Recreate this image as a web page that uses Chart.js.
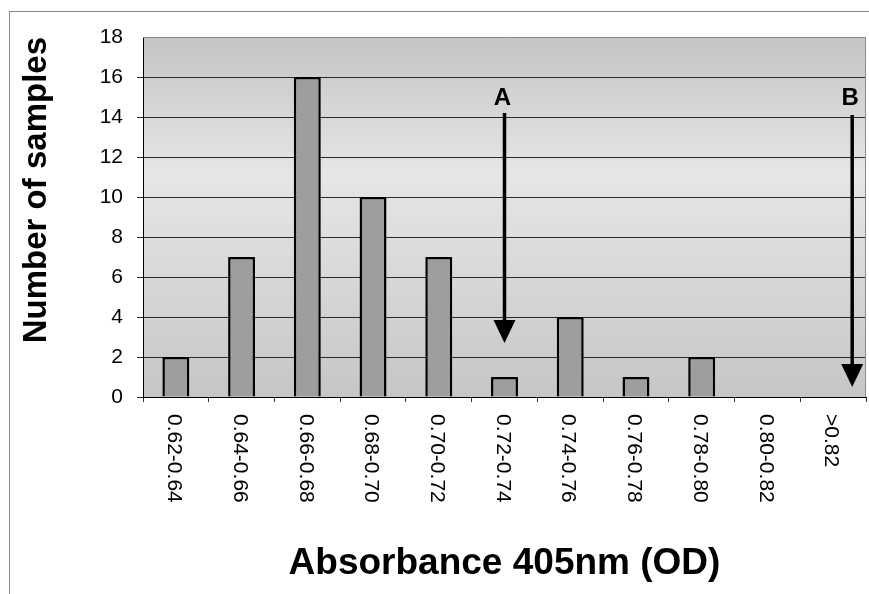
<!DOCTYPE html>
<html>
<head>
<meta charset="utf-8">
<script src="https://cdn.jsdelivr.net/npm/chart.js@4"></script>
<style>
  body { margin: 0; background: #fff; }
  #wrap { position: relative; width: 869px; height: 594px; }
  #frame { position: absolute; left: 9px; top: 11px; right: 0; bottom: 0;
           border-top: 1px solid #8a8a8a; border-left: 1px solid #8a8a8a; pointer-events: none; }
</style>
</head>
<body>
<div id="wrap">
  <canvas id="histChart" width="869" height="594"></canvas>
  <div id="frame"></div>
</div>
<script>
// absorbance bins and sample counts
const bins = ['0.62-0.64', '0.64-0.66', '0.66-0.68', '0.68-0.70', '0.70-0.72', '0.72-0.74',
              '0.74-0.76', '0.76-0.78', '0.78-0.80', '0.80-0.82', '>0.82'];
const counts = [2, 7, 16, 10, 7, 1, 4, 1, 2, 0, 0];

// arrows A and B (x in category index units, y in sample counts)
const arrowNames = ['A', 'B'];
const arrowX = [5, 10.29];
const arrowTop = [14.2, 14.1];
const arrowTip = [2.7, 0.5];
const arrowLabelY = [14.95, 14.95];

const FONT = '"Liberation Sans", Arial, sans-serif';

const plotBackground = {
    id: 'plotBackground',
    beforeDraw(chart) {
        const {ctx, chartArea: a} = chart;
        let g = ctx.createLinearGradient(0, a.top, 0, a.bottom);
        g.addColorStop(0, '#c4c4c4');
        g.addColorStop(0.38, '#e6e6e6');
        g.addColorStop(0.55, '#dedede');
        g.addColorStop(1, '#c6c6c6');
        ctx.save();
        ctx.fillStyle = g;
        ctx.fillRect(a.left, a.top, a.right - a.left, a.bottom - a.top);
        ctx.restore();
    },
    afterDraw(chart) {
        const {ctx, chartArea: a} = chart;
        ctx.save();
        ctx.strokeStyle = '#8a8a8a';
        ctx.lineWidth = 1;
        ctx.beginPath();
        ctx.moveTo(a.left, a.top + 0.5);
        ctx.lineTo(a.right - 0.5, a.top + 0.5);
        ctx.lineTo(a.right - 0.5, a.bottom);
        ctx.stroke();
        ctx.restore();
    }
};

// x labels read top to bottom, so they are drawn here
const xLabels = {
    id: 'xLabels',
    afterDraw(chart) {
        const {ctx, scales: {x}} = chart;
        ctx.save();
        ctx.fillStyle = '#000';
        ctx.font = '21px ' + FONT;
        ctx.textAlign = 'left';
        ctx.textBaseline = 'middle';
        bins.forEach((b, i) => {
            ctx.save();
            ctx.translate(x.getPixelForValue(i) - 2, x.top + 17);
            ctx.rotate(Math.PI / 2);
            ctx.fillText(b, 0, 0);
            ctx.restore();
        });
        ctx.restore();
    }
};

const arrows = {
    id: 'arrows',
    afterDatasetsDraw(chart) {
        const {ctx, scales: {x, y}} = chart;
        const step = x.getPixelForValue(1) - x.getPixelForValue(0);
        ctx.save();
        ctx.fillStyle = '#000';
        ctx.strokeStyle = '#000';
        arrowNames.forEach((name, i) => {
            const px = x.getPixelForValue(0) + arrowX[i] * step;
            const top = y.getPixelForValue(arrowTop[i]);
            const tip = y.getPixelForValue(arrowTip[i]);
            ctx.lineWidth = 3.5;
            ctx.beginPath();
            ctx.moveTo(px, top);
            ctx.lineTo(px, tip - 20);
            ctx.stroke();
            ctx.beginPath();
            ctx.moveTo(px - 11, tip - 23);
            ctx.lineTo(px + 11, tip - 23);
            ctx.lineTo(px, tip);
            ctx.closePath();
            ctx.fill();
            ctx.font = 'bold 24px ' + FONT;
            ctx.textAlign = 'center';
            ctx.textBaseline = 'middle';
            ctx.fillText(name, px - 2, y.getPixelForValue(arrowLabelY[i]));
        });
        ctx.restore();
    }
};

let ctx = document.getElementById('histChart').getContext('2d');
let histChart = new Chart(ctx, {
    type: 'bar',
    data: {
        labels: bins,
        datasets: [{
            label: 'Number of samples',
            data: counts,
            backgroundColor: '#9e9e9e',
            borderColor: '#000',
            borderWidth: 2.5,
            categoryPercentage: 1,
            barPercentage: 0.41
        }]
    },
    options: {
        responsive: false,
        animation: false,
        layout: { padding: { top: 37, right: 3, left: 0, bottom: 0 } },
        plugins: {
            legend: { display: false },
            tooltip: { enabled: false }
        },
        scales: {
            x: {
                ticks: { display: false },
                grid: { display: true, drawOnChartArea: false, offset: true, tickLength: 5, color: '#333' },
                border: { color: '#000', width: 1 },
                title: {
                    display: true,
                    text: 'Absorbance 405nm (OD)',
                    color: '#000',
                    font: { family: FONT, size: 37, weight: 'bold' },
                    padding: { top: 0, bottom: 8 }
                },
                afterFit(scale) { scale.height = 197; }
            },
            y: {
                min: 0,
                max: 18,
                ticks: { stepSize: 2, color: '#000', font: { family: FONT, size: 21 }, padding: 14 },
                grid: {
                    tickLength: 6,
                    color: (c) => c.tick && c.tick.value === 18 ? 'rgba(0,0,0,0)' : '#2a2a2a'
                },
                border: { color: '#000', width: 1 },
                title: {
                    display: true,
                    text: 'Number of samples',
                    align: 'end',
                    color: '#000',
                    font: { family: FONT, size: 33, weight: 'bold' },
                    padding: { top: 17, bottom: 0 }
                },
                afterFit(scale) { scale.width = 143; }
            }
        }
    },
    plugins: [plotBackground, xLabels, arrows]
});
</script>
</body>
</html>
